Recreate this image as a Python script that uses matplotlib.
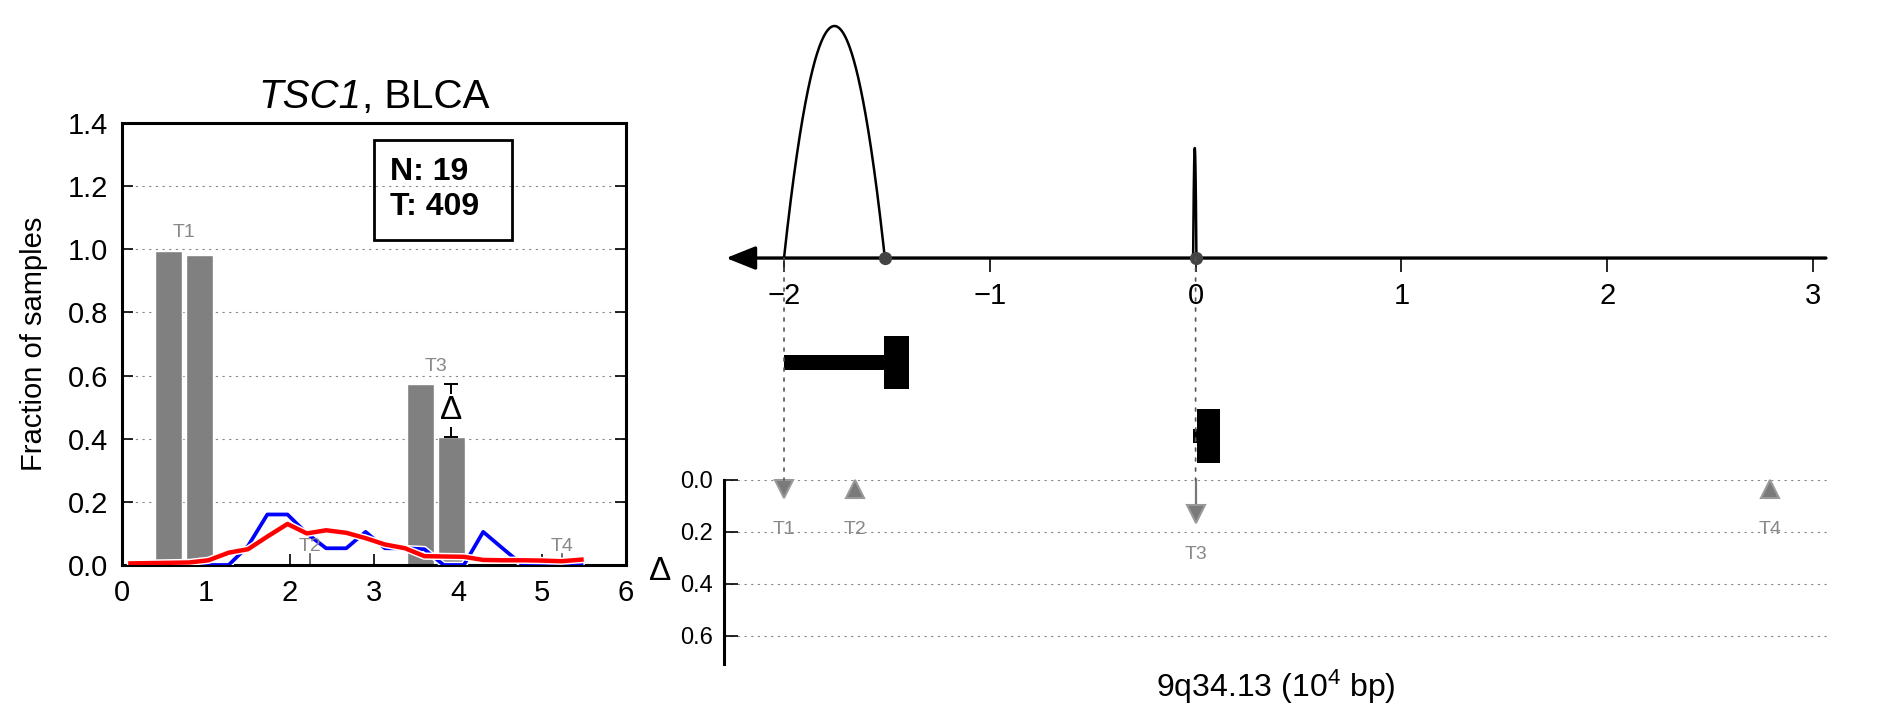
import numpy as np
import matplotlib
matplotlib.use("Agg")
import matplotlib.pyplot as plt
from matplotlib.patches import ConnectionPatch, Rectangle
import matplotlib.patheffects as pe

plt.rcParams['font.family'] = ['Liberation Sans', 'DejaVu Sans']
plt.rcParams['mathtext.fontset'] = 'custom'
plt.rcParams['mathtext.rm'] = 'Liberation Sans'
plt.rcParams['mathtext.it'] = 'Liberation Sans:italic'
plt.rcParams['mathtext.bf'] = 'Liberation Sans:bold'

# ---------------- data ----------------
gene = "TSC1"
cohort = "BLCA"
n_normal = 19
n_tumor = 409
groups = ["T1", "T2", "T3", "T4"]
frac_normal = [0.994, 0.0, 0.572, 0.0]
frac_tumor = [0.981, 0.0, 0.407, 0.0]
delta_significant = [False, False, True, False]

dens_x = [0.10, 0.33, 0.57, 0.80, 1.03, 1.27, 1.50, 1.73, 1.97, 2.20, 2.43, 2.67,
          2.90, 3.13, 3.37, 3.60, 3.83, 4.07, 4.30, 4.53, 4.77, 5.00, 5.23, 5.47]
dens_blue = [0.0, 0.0, 0.0, 0.0, 0.0, 0.0, 0.06, 0.16, 0.16, 0.10, 0.053, 0.053,
             0.105, 0.053, 0.053, 0.05, 0.0, 0.0, 0.105, 0.053, 0.0, 0.0, 0.0, 0.0]
dens_red = [0.005, 0.006, 0.007, 0.008, 0.015, 0.039, 0.05, 0.09, 0.13, 0.10, 0.11, 0.102,
            0.085, 0.065, 0.053, 0.028, 0.027, 0.026, 0.016, 0.015, 0.015, 0.014, 0.012, 0.017]

# genomic panel (units of 10^4 bp)
region_label = "9q34.13"
arc_start = [-2.0, -0.012]
arc_end = [-1.51, 0.004]
arc_height = [1.0, 0.474]
utr_start = [-2.0, -0.015]
utr_end = [-1.516, 0.005]
exon_start = [-1.516, 0.005]
exon_end = [-1.395, 0.12]

t_pos = [-2.0, -1.657, 0.0, 2.79]
t_delta = [0.013, 0.0, 0.165, 0.0]
t_down = [True, False, True, False]
t_linked = [True, False, True, False]

# ---------------- figure ----------------
W, H = 1882, 718
fig = plt.figure(figsize=(W / 100, H / 100), dpi=100)


def px_axes(x0, y0, x1, y1):
    return fig.add_axes([x0 / W, 1 - y1 / H, (x1 - x0) / W, (y1 - y0) / H])


grey = "#808080"
label_grey = "#888888"

# ---------- left panel ----------
axL = px_axes(122, 123, 626, 565)
gx = 0.735 + 1.5 * np.arange(len(groups))
off, bw = 0.185, 0.32
for i in range(len(groups)):
    if frac_normal[i] > 0:
        axL.bar(gx[i] - off, frac_normal[i], width=bw, color=grey, edgecolor="white", lw=1, zorder=2)
    if frac_tumor[i] > 0:
        axL.bar(gx[i] + off, frac_tumor[i], width=bw, color=grey, edgecolor="white", lw=1, zorder=2)

halo = lambda w: [pe.Stroke(linewidth=w, foreground="white"), pe.Normal()]
axL.plot(dens_x, dens_blue, color="blue", lw=2.7, zorder=3, path_effects=halo(4.8))
axL.plot(dens_x, dens_red, color="red", lw=3.2, zorder=4, path_effects=halo(5.3))

for i, g in enumerate(groups):
    top = max(frac_normal[i], frac_tumor[i])
    axL.text(gx[i], top + 0.058, g, color=label_grey, fontsize=14, ha="center", va="center", zorder=6)
    if top == 0:
        axL.plot([gx[i], gx[i]], [0, 0.035], color="#555555", lw=1.2, zorder=2)
    if delta_significant[i]:
        xe = gx[i] + off
        lo, hi = sorted([frac_normal[i], frac_tumor[i]])
        axL.errorbar([xe], [(lo + hi) / 2], yerr=[[(hi - lo) / 2], [(hi - lo) / 2]], fmt="none",
                     ecolor="black", elinewidth=1.4, capsize=5, capthick=1.4, zorder=5)
        axL.text(xe, (lo + hi) / 2, "Δ", fontsize=24, ha="center", va="center", zorder=6,
                 bbox=dict(facecolor="white", edgecolor="none", pad=1))

axL.set_xlim(0, 6)
axL.set_ylim(0, 1.4)
axL.set_xticks(range(0, 7))
axL.set_yticks(np.arange(0, 1.41, 0.2))
axL.set_yticklabels([f"{v:.1f}" for v in np.arange(0, 1.41, 0.2)])
axL.tick_params(direction="in", length=8, width=1.2, labelsize=21, pad=10, right=True, top=False)
axL.yaxis.grid(True, linestyle=(0, (2, 4)), color="#888888", lw=0.8)
axL.set_axisbelow(True)
for s in axL.spines.values():
    s.set_linewidth(2.2)
axL.set_ylabel("Fraction of samples", fontsize=21, labelpad=14)

# title: italic gene name + upright cohort, centred over the left axes
renderer = fig.canvas.get_renderer()
t_gene = fig.text(0, 0, gene, fontsize=29, fontstyle="italic", va="baseline", ha="left")
t_rest = fig.text(0, 0, f", {cohort}", fontsize=29, va="baseline", ha="left")
wa = t_gene.get_window_extent(renderer).width
wb = t_rest.get_window_extent(renderer).width
cx = (122 + 626) / 2
base_y = 1 - 108 / H
x0 = cx - (wa + wb) / 2
t_gene.set_position((x0 / W, base_y))
t_rest.set_position(((x0 + wa) / W, base_y))

axL.add_patch(Rectangle((0.5, 0.735), 0.274, 0.2265, transform=axL.transAxes, fill=False,
                        lw=2, edgecolor="black", zorder=7))
axL.text(0.532, 0.871, f"N: {n_normal}", transform=axL.transAxes, fontsize=23, fontweight="bold",
         va="baseline", ha="left", zorder=7)
axL.text(0.532, 0.792, f"T: {n_tumor}", transform=axL.transAxes, fontsize=23, fontweight="bold",
         va="baseline", ha="left", zorder=7)

# ---------- right panels ----------
xlim = (-2.2916, 3.073)
axT = px_axes(724, 10, 1828, 520)
axB = px_axes(724, 480, 1828, 664)

axT.set_xlim(*xlim)
axT.set_ylim(-1.129, 1.069)
axT.patch.set_visible(False)
for k in ["left", "right", "top"]:
    axT.spines[k].set_visible(False)
axT.spines["bottom"].set_position(("data", 0))
axT.spines["bottom"].set_color("none")
axT.set_yticks([])
axT.set_xticks(range(-2, 4))
axT.tick_params(axis="x", direction="out", length=10, width=1.2, labelsize=21, pad=7)

axT.annotate("", xy=(xlim[0] + 0.01, 0), xytext=(xlim[1] - 0.01, 0),
             arrowprops=dict(arrowstyle="-|>,head_length=0.4,head_width=0.16", color="black",
                             lw=2.4, mutation_scale=45, shrinkA=0, shrinkB=0), zorder=3)

for s, e, h in zip(arc_start, arc_end, arc_height):
    xs = np.linspace(s, e, 300)
    c, r = (s + e) / 2, (e - s) / 2
    axT.plot(xs, h * (1 - ((xs - c) / r) ** 2), color="black", lw=1.8, zorder=4)
axT.plot(arc_end, [0] * len(arc_end), "o", color="#444444", ms=8.5, zorder=5)

row_y = [-0.45, -0.767]
axT.barh(row_y, np.subtract(utr_end, utr_start), left=utr_start, height=0.063, color="black", zorder=4)
axT.barh(row_y, np.subtract(exon_end, exon_start), left=exon_start, height=0.23, color="black", zorder=4)

axB.set_xlim(*xlim)
axB.set_ylim(0.7077, 0)
axB.patch.set_visible(False)
for k in ["right", "top", "bottom"]:
    axB.spines[k].set_visible(False)
axB.spines["left"].set_linewidth(2.2)
axB.set_xticks([])
axB.set_yticks([0, 0.2, 0.4, 0.6])
axB.set_yticklabels(["0.0", "0.2", "0.4", "0.6"])
axB.tick_params(axis="y", direction="in", length=10, width=1.2, labelsize=17, pad=8)
axB.yaxis.grid(True, linestyle=(0, (2, 4)), color="#888888", lw=0.8)
axB.set_ylabel("Δ", rotation=0, fontsize=24, va="center", ha="right", labelpad=6)
axB.set_xlabel(f"{region_label} (10$^4$ bp)", fontsize=23, labelpad=3)

for x, d, dn, lk, g in zip(t_pos, t_delta, t_down, t_linked, groups):
    yc = max(d, 0.07) - 0.035
    if yc > 0.036:
        axB.plot([x, x], [0, yc], color="#777777", lw=1.6, zorder=3, clip_on=False)
    axB.plot([x], [yc], "v" if dn else "^", ms=13, color="#7a7a7a", mec="#999999", mew=1.5,
             zorder=4, clip_on=False)
    axB.text(x, yc + 0.155, g, color=label_grey, fontsize=14, ha="center", va="center")
    if lk:
        con = ConnectionPatch(xyA=(x, 0), coordsA=axT.transData, xyB=(x, 0), coordsB=axB.transData,
                              linestyle=(0, (1.8, 4.2)), color="#555555", lw=1.2, zorder=1)
        fig.add_artist(con)

fig.savefig("out.png", dpi=100)
